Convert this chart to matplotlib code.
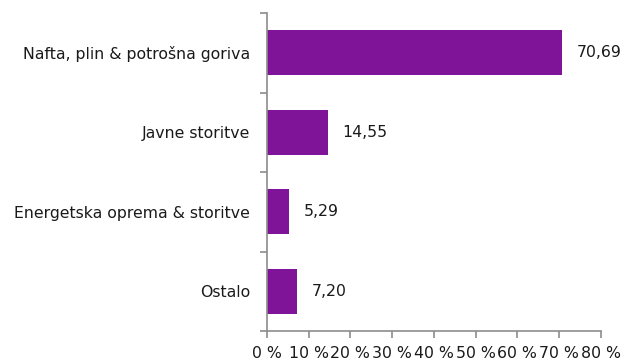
import matplotlib.pyplot as plt
import numpy as np

plt.rcParams['font.family'] = ['DejaVu Sans']

categories = ['Nafta, plin & potrošna goriva', 'Javne storitve',
              'Energetska oprema & storitve', 'Ostalo']
shares = [70.69, 14.55, 5.29, 7.20]
x_ticks = [0, 10, 20, 30, 40, 50, 60, 70, 80]

bar_color = '#7f1499'
axis_color = '#8c8c8c'
text_color = '#1a1a1a'
fs = 11.3

fig = plt.figure(figsize=(6.22, 3.61), dpi=100)
ax = fig.add_axes([0.429, 0.083, 0.537, 0.881])

pos = np.arange(len(categories))
ax.barh(pos, shares, height=0.57, color=bar_color)
for p, v in zip(pos, shares):
    ax.text(v + 3.6, p, f'{v:.2f}'.replace('.', ','), va='center', ha='left',
            fontsize=fs, color=text_color)

ax.set_ylim(len(categories) - 0.5, -0.5)
ax.set_xlim(0, 80)

# category labels sit between the boundary ticks
ax.set_yticks(np.arange(len(categories) + 1) - 0.5)
ax.set_yticklabels([])
ax.set_yticks(pos, minor=True)
ax.set_yticklabels(categories, minor=True, fontsize=fs, color=text_color)
ax.tick_params(axis='y', which='minor', length=0, pad=12)
ax.tick_params(axis='y', which='major', length=5, color=axis_color, width=1.2)

ax.set_xticks(x_ticks)
ax.set_xticklabels([f'{t} %' for t in x_ticks], fontsize=fs, color=text_color)
ax.tick_params(axis='x', length=5, color=axis_color, width=1.2, pad=6)

for s in ['top', 'right']:
    ax.spines[s].set_visible(False)
for s in ['left', 'bottom']:
    ax.spines[s].set_color(axis_color)
    ax.spines[s].set_linewidth(1.2)

fig.savefig('out.png', dpi=100)
